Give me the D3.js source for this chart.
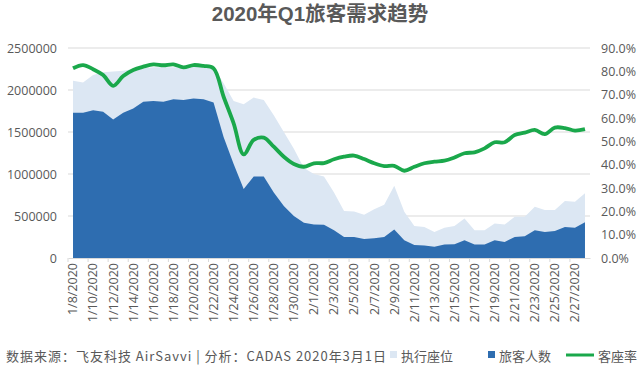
<!DOCTYPE html>
<html><head><meta charset="utf-8">
<script src="https://cdn.jsdelivr.net/npm/d3@7"></script>
<style>
html,body{margin:0;padding:0;background:#fff;}
svg{display:block;}
text{font-family:"Open Sans","Noto Sans CJK SC",sans-serif;}
</style></head>
<body><svg id="c" width="640" height="368"></svg>
<script>
const dates = ["1/8/2020","1/9/2020","1/10/2020","1/11/2020","1/12/2020","1/13/2020","1/14/2020","1/15/2020","1/16/2020","1/17/2020","1/18/2020","1/19/2020","1/20/2020","1/21/2020","1/22/2020","1/23/2020","1/24/2020","1/25/2020","1/26/2020","1/27/2020","1/28/2020","1/29/2020","1/30/2020","1/31/2020","2/1/2020","2/2/2020","2/3/2020","2/4/2020","2/5/2020","2/6/2020","2/7/2020","2/8/2020","2/9/2020","2/10/2020","2/11/2020","2/12/2020","2/13/2020","2/14/2020","2/15/2020","2/16/2020","2/17/2020","2/18/2020","2/19/2020","2/20/2020","2/21/2020","2/22/2020","2/23/2020","2/24/2020","2/25/2020","2/26/2020","2/27/2020","2/28/2020"];
const seats = [2110000,2090000,2180000,2210000,2220000,2230000,2250000,2260000,2270000,2270000,2270000,2270000,2280000,2280000,2270000,2080000,1870000,1830000,1910000,1880000,1700000,1500000,1300000,1070000,1000000,970000,780000,560000,555000,515000,580000,635000,860000,550000,380000,370000,310000,360000,380000,470000,330000,330000,410000,400000,490000,490000,610000,570000,570000,680000,670000,770000];
const passengers = [1730000,1730000,1760000,1740000,1650000,1730000,1780000,1860000,1870000,1860000,1890000,1880000,1900000,1890000,1850000,1440000,1120000,820000,970000,970000,780000,620000,500000,420000,400000,395000,330000,250000,250000,225000,235000,250000,340000,210000,155000,150000,135000,160000,165000,210000,160000,160000,210000,190000,250000,260000,330000,310000,320000,370000,360000,425000];
const loadFactor = [81.3,82.7,80.9,78.4,73.8,78.0,80.6,82.0,83.0,82.6,83.0,81.7,82.7,82.3,81.3,69.1,57.7,44.4,50.6,51.6,47.7,43.4,40.3,39.1,40.6,40.7,42.3,43.4,43.9,42.4,40.6,39.4,39.5,37.4,39.1,40.6,41.3,41.7,43.1,44.9,45.3,47.0,49.6,49.6,52.7,53.7,54.9,53.1,55.9,55.7,54.6,55.2];
const leftTicks = [0,500000,1000000,1500000,2000000,2500000];
const rightTicks = [0,10,20,30,40,50,60,70,80,90];
const title = "2020年Q1旅客需求趋势";
const source = "数据来源：飞友科技 AirSavvi | 分析：CADAS 2020年3月1日";
const legendNames = ["执行座位","旅客人数","客座率"];

const C = {light:"#dce7f3", dark:"#2e6db0", green:"#1aa84b", grid:"#d9d9d9", text:"#595959"};
const svg = d3.select("#c");
const L = 68, R = 590, T = 48, B = 258;

const x = d3.scaleBand().domain(dates).range([L, R]);
const cx = d => x(d) + x.bandwidth()/2;
const yL = d3.scaleLinear().domain([0,2500000]).range([B,T]);
const yR = d3.scaleLinear().domain([0,90]).range([B,T]);

// gridlines
svg.append("g").selectAll("line").data(leftTicks.filter(v=>v>0)).join("line")
  .attr("x1",L).attr("x2",R).attr("y1",d=>yL(d)).attr("y2",d=>yL(d))
  .attr("stroke",C.grid).attr("stroke-width",1);

// areas
const areaSeats = d3.area().x((d,i)=>cx(dates[i])).y0(yL(0)).y1(d=>yL(d));
svg.append("path").datum(seats).attr("d",areaSeats).attr("fill",C.light);
svg.append("path").datum(passengers).attr("d",areaSeats).attr("fill",C.dark);

// line
const line = d3.line().x((d,i)=>cx(dates[i])).y(d=>yR(d)).curve(d3.curveCatmullRom.alpha(0.5));
svg.append("path").datum(loadFactor).attr("d",line).attr("fill","none")
  .attr("stroke",C.green).attr("stroke-width",3.8).attr("stroke-linejoin","round");

// left axis
const axL = svg.append("g").attr("transform",`translate(${L},0)`)
  .call(d3.axisLeft(yL).tickValues(leftTicks).tickFormat(d3.format("d")).tickSize(0).tickPadding(11));
axL.select(".domain").remove();
axL.selectAll("text").attr("fill",C.text).style("font-size","12.5px").style("font-family","'Open Sans',sans-serif");

// right axis
const axR = svg.append("g").attr("transform",`translate(${R},0)`)
  .call(d3.axisRight(yR).tickValues(rightTicks).tickFormat(d=>d3.format(".1f")(d)+"%").tickSize(0).tickPadding(11));
axR.select(".domain").remove();
axR.selectAll("text").attr("fill",C.text).style("font-size","12.5px").style("font-family","'Open Sans',sans-serif");

// bottom axis
const labelDates = dates.filter((d,i)=>i%2===0);
const axB = svg.append("g").attr("transform",`translate(0,${B})`)
  .call(d3.axisBottom(x).tickValues(labelDates).tickSize(0).tickPadding(0));
axB.select(".domain").attr("stroke",C.grid);
axB.selectAll("text").attr("fill",C.text).style("font-size","12.5px").style("font-family","'Open Sans',sans-serif")
  .attr("transform","rotate(-90)").attr("text-anchor","end").attr("x",-5).attr("y",0).attr("dy","0.35em");
svg.append("g").selectAll("line").data(labelDates).join("line")
  .attr("x1",d=>x(d)).attr("x2",d=>x(d)).attr("y1",B).attr("y2",B+4)
  .attr("stroke",C.grid);

// title
svg.append("text").attr("x",320).attr("y",21).attr("text-anchor","middle")
  .attr("fill",C.text).style("font-size","20.5px").style("font-weight","bold")
  .style("font-family","'Liberation Sans','Noto Sans CJK SC',sans-serif").text(title);

// source
svg.append("text").attr("x",6).attr("y",361).attr("fill",C.text)
  .attr("textLength",380).attr("lengthAdjust","spacing")
  .style("font-size","13px").style("font-family","'Noto Sans CJK SC',sans-serif").text(source);

// legend
const lg = svg.append("g").style("font-family","'Noto Sans CJK SC',sans-serif");
lg.append("rect").attr("x",390).attr("y",351).attr("width",7).attr("height",7).attr("fill",C.light);
lg.append("text").attr("x",401).attr("y",361).attr("fill",C.text).style("font-size","13px").text(legendNames[0]);
lg.append("rect").attr("x",488).attr("y",351).attr("width",7).attr("height",7).attr("fill",C.dark);
lg.append("text").attr("x",499).attr("y",361).attr("fill",C.text).style("font-size","13px").text(legendNames[1]);
lg.append("line").attr("x1",566).attr("x2",594).attr("y1",355).attr("y2",355).attr("stroke",C.green).attr("stroke-width",3);
lg.append("text").attr("x",598).attr("y",361).attr("fill",C.text).style("font-size","13px").text(legendNames[2]);
</script></body></html>
